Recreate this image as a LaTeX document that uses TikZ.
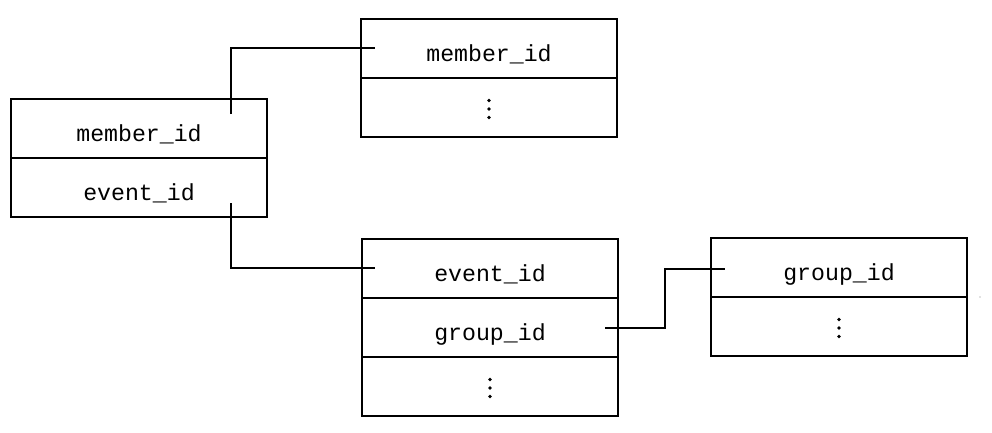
\documentclass[tikz,border=0pt]{standalone}
\usepackage{fontspec}
\setmonofont{Liberation Mono}
\begin{document}
\begin{tikzpicture}[x=1pt,y=-1pt,
  cell/.style={draw, line width=1.8pt, minimum width=256pt, minimum height=59pt,
    inner sep=0pt, outer sep=0pt, anchor=north west, text height=26pt, text depth=0pt,
    font=\ttfamily\fontsize{23.2}{26}\selectfont},
  link/.style={line width=1.8pt},
  dot/.style={fill=black}]
\useasboundingbox (0,0) rectangle (992,432);
% table A
\node[cell] (a1) at (11,99) {member\_id};
\node[cell] (a2) at (11,158) {event\_id};
% table B
\node[cell] (b1) at (361,19) {member\_id};
\node[cell] (b2) at (361,78) {};
% table C
\node[cell] (c1) at (362,239) {event\_id};
\node[cell] (c2) at (362,298) {group\_id};
\node[cell] (c3) at (362,357) {};
% table D
\node[cell] (d1) at (711,238) {group\_id};
\node[cell] (d2) at (711,297) {};
% vertical ellipses
\foreach \n in {b2,c3,d2}{
  \foreach \dy in {7,-1.5,-10}{
    \fill[dot] ([yshift=\dy pt]\n.center) circle (1.8);
  }
}
% connector end points
\coordinate (p1) at (231,114);
\coordinate (q1) at (375,48);
\coordinate (p2) at (231,203);
\coordinate (q2) at (375,268);
\coordinate (p3) at (605,328);
\coordinate (m3) at (665,328);
\coordinate (q3) at (725,269);
\draw[link] (p1) |- (q1);
\draw[link] (p2) |- (q2);
\draw[link] (p3) -- (m3) |- (q3);
% stray mark
\fill[gray] (980,297) circle (0.6);
\end{tikzpicture}
\end{document}
